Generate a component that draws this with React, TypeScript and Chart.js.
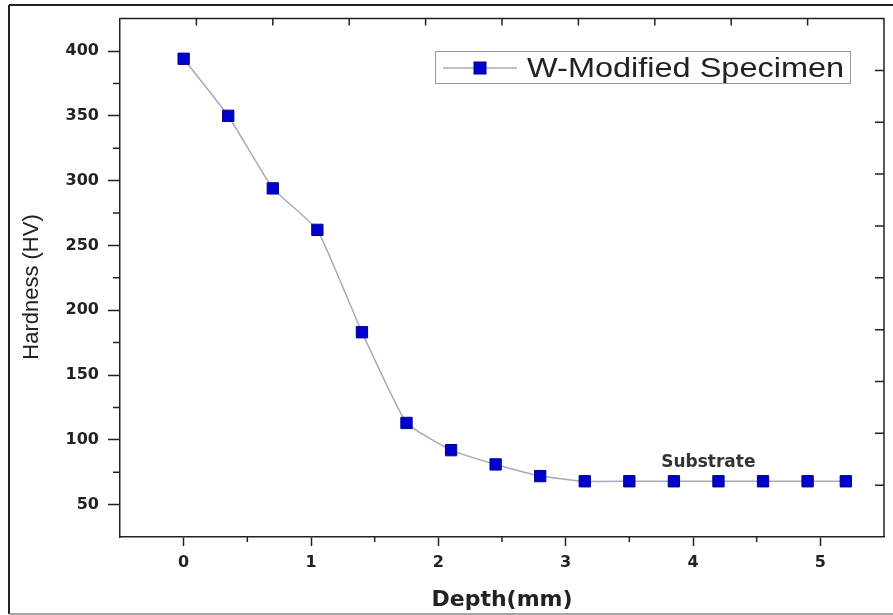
import React, { useEffect, useRef } from "react";
import { Chart, registerables } from "chart.js";

Chart.register(...registerables);

const depthMm = [0, 0.35, 0.7, 1.05, 1.4, 1.75, 2.1, 2.45, 2.8, 3.15, 3.5, 3.85, 4.2, 4.55, 4.9, 5.2];
const hardnessHV = [394, 350, 294, 262, 183, 113, 92, 81, 72, 68, 68, 68, 68, 68, 68, 68];
const xMajorTicks = [0, 1, 2, 3, 4, 5];
const xMinorTicks = [0.5, 1.5, 2.5, 3.5, 4.5];
const yMajorTicks = [50, 100, 150, 200, 250, 300, 350, 400];
const yMinorTicks = [75, 125, 175, 225, 275, 325, 375];
const seriesLabel = "W-Modified Specimen";
const xTitle = "Depth(mm)";
const yTitle = "Hardness (HV)";
const annotationText = "Substrate";
const annotationPos = { x: 4.12, y: 84 };

const MARKER_FILL = "#0000cc";
const MARKER_EDGE = "#00008b";
const LINE_COLOR = "#a9a9bd";
const AXIS = "#222";

const decor = {
  id: "decor",
  afterDraw(chart: any) {
    const { ctx, chartArea: a, scales } = chart;
    const xs = scales.x;
    const ys = scales.y;
    ctx.save();
    // page frame
    ctx.strokeStyle = "#222";
    ctx.lineWidth = 2;
    ctx.beginPath();
    ctx.moveTo(9, 5);
    ctx.lineTo(9, 614);
    ctx.moveTo(9, 5);
    ctx.lineTo(893, 5);
    ctx.stroke();
    ctx.strokeStyle = "#888";
    ctx.lineWidth = 1.5;
    ctx.beginPath();
    ctx.moveTo(9, 614);
    ctx.lineTo(893, 614);
    ctx.stroke();

    // top/right axis lines and ticks
    ctx.strokeStyle = AXIS;
    ctx.lineWidth = 1.5;
    ctx.beginPath();
    ctx.moveTo(a.left, a.top);
    ctx.lineTo(a.right, a.top);
    ctx.lineTo(a.right, a.bottom);
    for (let i = 1; i < 10; i++) {
      const px = a.left + ((a.right - a.left) * i) / 10;
      ctx.moveTo(px, a.top);
      ctx.lineTo(px, a.top + 7);
      const py = a.top + ((a.bottom - a.top) * i) / 10;
      ctx.moveTo(a.right, py);
      ctx.lineTo(a.right - 9, py);
    }
    // minor ticks
    for (const v of xMinorTicks) {
      const px = xs.getPixelForValue(v);
      ctx.moveTo(px, a.bottom);
      ctx.lineTo(px, a.bottom + 5);
    }
    for (const v of yMinorTicks) {
      const py = ys.getPixelForValue(v);
      ctx.moveTo(a.left, py);
      ctx.lineTo(a.left - 7, py);
    }
    ctx.stroke();

    // axis titles
    ctx.fillStyle = "#222";
    ctx.textAlign = "center";
    ctx.textBaseline = "middle";
    ctx.font = "bold 22px 'DejaVu Sans'";
    ctx.fillText(xTitle, (a.left + a.right) / 2, 600);
    ctx.save();
    ctx.translate(32, 287);
    ctx.rotate(-Math.PI / 2);
    ctx.font = "22px 'Liberation Sans'";
    ctx.fillText(yTitle, 0, 0);
    ctx.restore();

    // annotation
    ctx.font = "bold 17px 'DejaVu Sans'";
    ctx.fillStyle = "#333";
    ctx.textBaseline = "alphabetic";
    ctx.fillText(annotationText, xs.getPixelForValue(annotationPos.x), ys.getPixelForValue(annotationPos.y) + 6);

    // legend
    const bx = 435, by = 51, bw = 415, bh = 32;
    ctx.strokeStyle = "#999";
    ctx.lineWidth = 1;
    ctx.strokeRect(bx + 0.5, by + 0.5, bw, bh);
    const ly = by + bh / 2 + 1;
    ctx.strokeStyle = LINE_COLOR;
    ctx.lineWidth = 1.5;
    ctx.beginPath();
    ctx.moveTo(443, ly);
    ctx.lineTo(517, ly);
    ctx.stroke();
    ctx.fillStyle = MARKER_FILL;
    ctx.strokeStyle = MARKER_EDGE;
    ctx.lineWidth = 1;
    ctx.fillRect(474, ly - 6, 12, 12);
    ctx.strokeRect(474, ly - 6, 12, 12);
    ctx.fillStyle = "#222";
    ctx.textAlign = "left";
    ctx.textBaseline = "alphabetic";
    ctx.save();
    ctx.translate(527, 77);
    ctx.scale(1.16, 1);
    ctx.font = "28px 'Liberation Sans'";
    ctx.fillText(seriesLabel, 0, 0);
    ctx.restore();

    ctx.restore();
  },
};

export default function App() {
  const ref = useRef<HTMLCanvasElement>(null);
  useEffect(() => {
    if (!ref.current) return;
    const chart = new Chart(ref.current, {
      type: "line",
      data: {
        datasets: [
          {
            label: seriesLabel,
            data: depthMm.map((x, i) => ({ x, y: hardnessHV[i] })),
            borderColor: LINE_COLOR,
            borderWidth: 1.5,
            tension: 0.12,
            pointStyle: "rect",
            pointRadius: 8,
            pointBackgroundColor: MARKER_FILL,
            pointBorderColor: MARKER_EDGE,
            pointBorderWidth: 1,
            fill: false,
          },
        ],
      },
      options: {
        animation: false,
        responsive: false,
        maintainAspectRatio: false,
        layout: { padding: { top: 18, right: 7.5, left: 0, bottom: 0 } },
        plugins: { legend: { display: false }, tooltip: { enabled: false } },
        scales: {
          x: {
            type: "linear",
            min: -0.5,
            max: 5.5,
            afterBuildTicks: (s: any) => {
              s.ticks = xMajorTicks.map((v) => ({ value: v }));
            },
            afterFit: (s: any) => {
              s.height = 78;
            },
            border: { display: true, color: AXIS, width: 1.5 },
            grid: { drawOnChartArea: false, drawTicks: true, tickLength: 9, tickColor: AXIS, tickWidth: 1.5 },
            ticks: {
              color: "#222",
              padding: 7,
              maxRotation: 0,
              autoSkip: false,
              font: { family: "'DejaVu Sans'", weight: "bold", size: 16 },
              callback: (v: any) => String(v),
            },
          },
          y: {
            type: "linear",
            min: 25,
            max: 425,
            afterBuildTicks: (s: any) => {
              s.ticks = yMajorTicks.map((v) => ({ value: v }));
            },
            afterFit: (s: any) => {
              s.width = 120;
            },
            border: { display: true, color: AXIS, width: 1.5 },
            grid: { drawOnChartArea: false, drawTicks: true, tickLength: 12, tickColor: AXIS, tickWidth: 1.5 },
            ticks: {
              color: "#222",
              padding: 9,
              autoSkip: false,
              font: { family: "'DejaVu Sans'", weight: "bold", size: 16 },
              callback: (v: any) => String(v),
            },
          },
        },
      },
      plugins: [decor],
    });
    return () => chart.destroy();
  }, []);
  return (
    <div style={{ position: "absolute", left: 0, top: 0, width: 893, height: 615, background: "#fff" }}>
      <canvas ref={ref} width={893} height={615} style={{ display: "block" }} />
    </div>
  );
}
